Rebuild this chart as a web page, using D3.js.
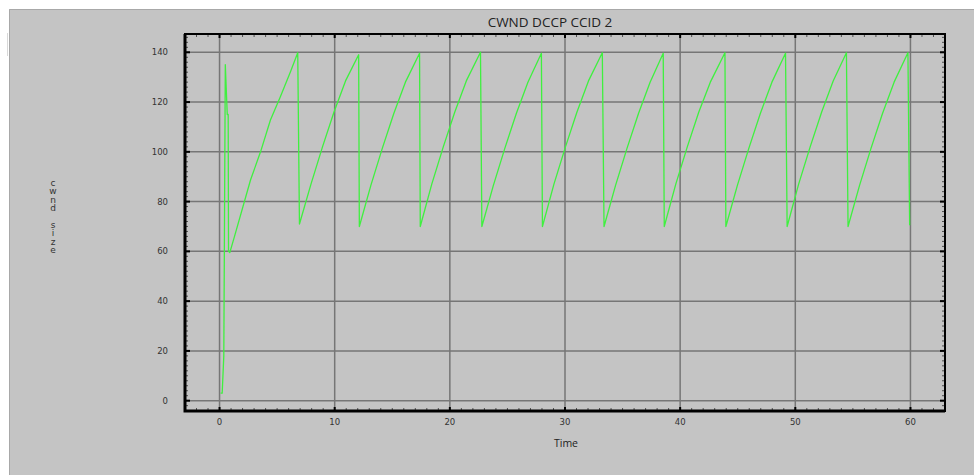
<!DOCTYPE html>
<html>
<head>
<meta charset="utf-8">
<script src="https://cdn.jsdelivr.net/npm/d3@7"></script>
<style>
    body { margin: 0; background: #fff; }
    svg { display: block; }
</style>
</head>
<body>
<div id="chart"></div>
<script>
/*
    CWND DCCP CCID 2 - sawtooth line
*/

const title = "CWND DCCP CCID 2"
const xLabel = "Time"
const yLabel = "cwnd size"

const xTicks = [0, 10, 20, 30, 40, 50, 60]
const yTicks = [0, 20, 40, 60, 80, 100, 120, 140]

// slow start + first climb
const startup = [[0.09, 3], [0.23, 3], [0.37, 18], [0.5, 135], [0.67, 115], [0.75, 115], [0.78, 60],
    [0.89, 59.5], [1.3, 66], [2.69, 88.7], [3.56, 100], [4.42, 112.8], [5.29, 122.2], [6.16, 132.2], [6.79, 139.8]]

// each later cycle: trough, climb, peak
const cycles = [
    [[6.94, 71], [7.94, 87], [8.94, 102], [9.94, 116], [10.94, 128.5], [12.08, 139]],
    [[12.14, 70], [13.14, 86.5], [14.14, 101.5], [15.14, 115.5], [16.14, 128], [17.37, 139.6]],
    [[17.43, 70], [18.43, 87], [19.43, 102], [20.43, 116], [21.43, 128.5], [22.66, 140]],
    [[22.78, 70], [23.78, 86.5], [24.78, 101.5], [25.78, 115.5], [26.78, 128], [27.95, 139.6]],
    [[28.04, 70], [29.04, 87], [30.04, 102], [31.04, 116], [32.04, 128.5], [33.24, 139.8]],
    [[33.39, 70], [34.39, 86.5], [35.39, 101.5], [36.39, 115.5], [37.39, 128], [38.53, 139.6]],
    [[38.62, 70], [39.62, 87], [40.62, 102], [41.62, 116], [42.62, 128], [43.89, 139.8]],
    [[43.97, 70], [44.97, 86.5], [45.97, 101.5], [46.97, 115.5], [47.97, 128], [49.15, 139.6]],
    [[49.29, 70], [50.29, 87], [51.29, 102], [52.29, 116], [53.29, 128.5], [54.44, 139.8]],
    [[54.58, 70], [55.58, 86.5], [56.58, 101.5], [57.58, 115.5], [58.58, 128], [59.78, 139.8]],
]
const tail = [[59.93, 70.5]]

const data = startup.concat(...cycles, tail)

const width = 974,
    height = 475;
const frame = ({ left: 185, right: 945, top: 34, bottom: 411 })

const svg = d3.select("#chart").append("svg")
    .attr("width", width)
    .attr("height", height)

// window background
svg.append("rect")
    .attr("x", 9).attr("y", 9)
    .attr("width", width - 9).attr("height", height - 9)
    .attr("fill", "#c4c4c4")
svg.append("path")
    .attr("d", `M9.5,${height} V9.5 H${width}`)
    .attr("fill", "none")
    .attr("stroke", "#a8a8a8")
svg.append("line")
    .attr("x1", 7.5).attr("x2", 7.5).attr("y1", 33).attr("y2", 56)
    .attr("stroke", "#d8d8d8")

var x = d3.scaleLinear()
    .domain([-3, 63])
    .range([frame.left, frame.right])
var y = d3.scaleLinear()
    .domain([-4.15, 147.35])
    .range([frame.bottom, frame.top])

// grid
svg.append("g")
    .selectAll("line")
    .data(yTicks)
    .enter().append("line")
    .attr("x1", frame.left).attr("x2", frame.right)
    .attr("y1", d => y(d)).attr("y2", d => y(d))
    .attr("stroke", "#767676")
    .attr("stroke-width", 1.5)
svg.append("g")
    .selectAll("line")
    .data(xTicks)
    .enter().append("line")
    .attr("y1", frame.top).attr("y2", frame.bottom)
    .attr("x1", d => x(d)).attr("x2", d => x(d))
    .attr("stroke", "#767676")
    .attr("stroke-width", 1.5)

// minor ticks, inward on all four sides
const xMinor = d3.range(-2, 63, 1).filter(d => d % 10 != 0)
const yMinor = d3.range(-4, 148, 2).filter(d => d % 20 != 0)

const ticks = svg.append("g").attr("stroke", "#333").attr("stroke-width", 0.8)
for (let d of xMinor) {
    ticks.append("line").attr("x1", x(d)).attr("x2", x(d)).attr("y1", frame.bottom).attr("y2", frame.bottom - 3)
    ticks.append("line").attr("x1", x(d)).attr("x2", x(d)).attr("y1", frame.top).attr("y2", frame.top + 3)
}
for (let d of yMinor) {
    ticks.append("line").attr("y1", y(d)).attr("y2", y(d)).attr("x1", frame.left).attr("x2", frame.left + 3)
    ticks.append("line").attr("y1", y(d)).attr("y2", y(d)).attr("x1", frame.right).attr("x2", frame.right - 3)
}
const major = svg.append("g").attr("stroke", "#000").attr("stroke-width", 2)
for (let d of xTicks) {
    major.append("line").attr("x1", x(d)).attr("x2", x(d)).attr("y1", frame.bottom).attr("y2", frame.bottom - 4)
    major.append("line").attr("x1", x(d)).attr("x2", x(d)).attr("y1", frame.top).attr("y2", frame.top + 4)
}
for (let d of yTicks) {
    major.append("line").attr("y1", y(d)).attr("y2", y(d)).attr("x1", frame.left).attr("x2", frame.left + 5)
    major.append("line").attr("y1", y(d)).attr("y2", y(d)).attr("x1", frame.right).attr("x2", frame.right - 5)
}

// the cwnd line
var line = d3.line()
    .x(d => x(d[0]))
    .y(d => y(d[1]))

svg.append("path")
    .datum(data)
    .attr("d", line)
    .attr("fill", "none")
    .attr("stroke", "#3ff03f")
    .attr("stroke-width", 1.3)
    .attr("stroke-linejoin", "round")

// frame
svg.append("rect")
    .attr("x", frame.left).attr("y", frame.top)
    .attr("width", frame.right - frame.left).attr("height", frame.bottom - frame.top)
    .attr("fill", "none")
    .attr("stroke", "#000")
    .attr("stroke-width", 2)
svg.append("path")
    .attr("d", `M${frame.left},${frame.top} V${frame.bottom} H${frame.right}`)
    .attr("fill", "none")
    .attr("stroke", "#000")
    .attr("stroke-width", 3)

// tick labels
const labels = svg.append("g")
    .style("font-family", "DejaVu Sans")
    .style("font-size", "8.5px")
    .attr("fill", "#333")
labels.selectAll(".ylab")
    .data(yTicks)
    .enter().append("text")
    .attr("x", 168)
    .attr("y", d => y(d) + 3)
    .attr("text-anchor", "end")
    .text(d => d)
labels.selectAll(".xlab")
    .data(xTicks)
    .enter().append("text")
    .attr("x", d => x(d))
    .attr("y", 425)
    .attr("text-anchor", "middle")
    .text(d => d)

svg.append("text")
    .attr("x", 550)
    .attr("y", 27)
    .attr("text-anchor", "middle")
    .style("font-family", "Open Sans")
    .style("font-size", "13.5px")
    .attr("fill", "#222")
    .text(title)

svg.append("text")
    .attr("x", 566)
    .attr("y", 447)
    .attr("text-anchor", "middle")
    .style("font-family", "Open Sans")
    .style("font-size", "10.5px")
    .attr("fill", "#222")
    .text(xLabel)

// stacked letters for the y label
svg.append("g")
    .style("font-family", "DejaVu Sans")
    .style("font-size", "9px")
    .attr("fill", "#333")
    .selectAll("text")
    .data(yLabel.split(""))
    .enter().append("text")
    .attr("x", 53)
    .attr("y", (d, i) => 186 + i * 8.4)
    .attr("text-anchor", "middle")
    .text(d => d)
</script>
</body>
</html>
